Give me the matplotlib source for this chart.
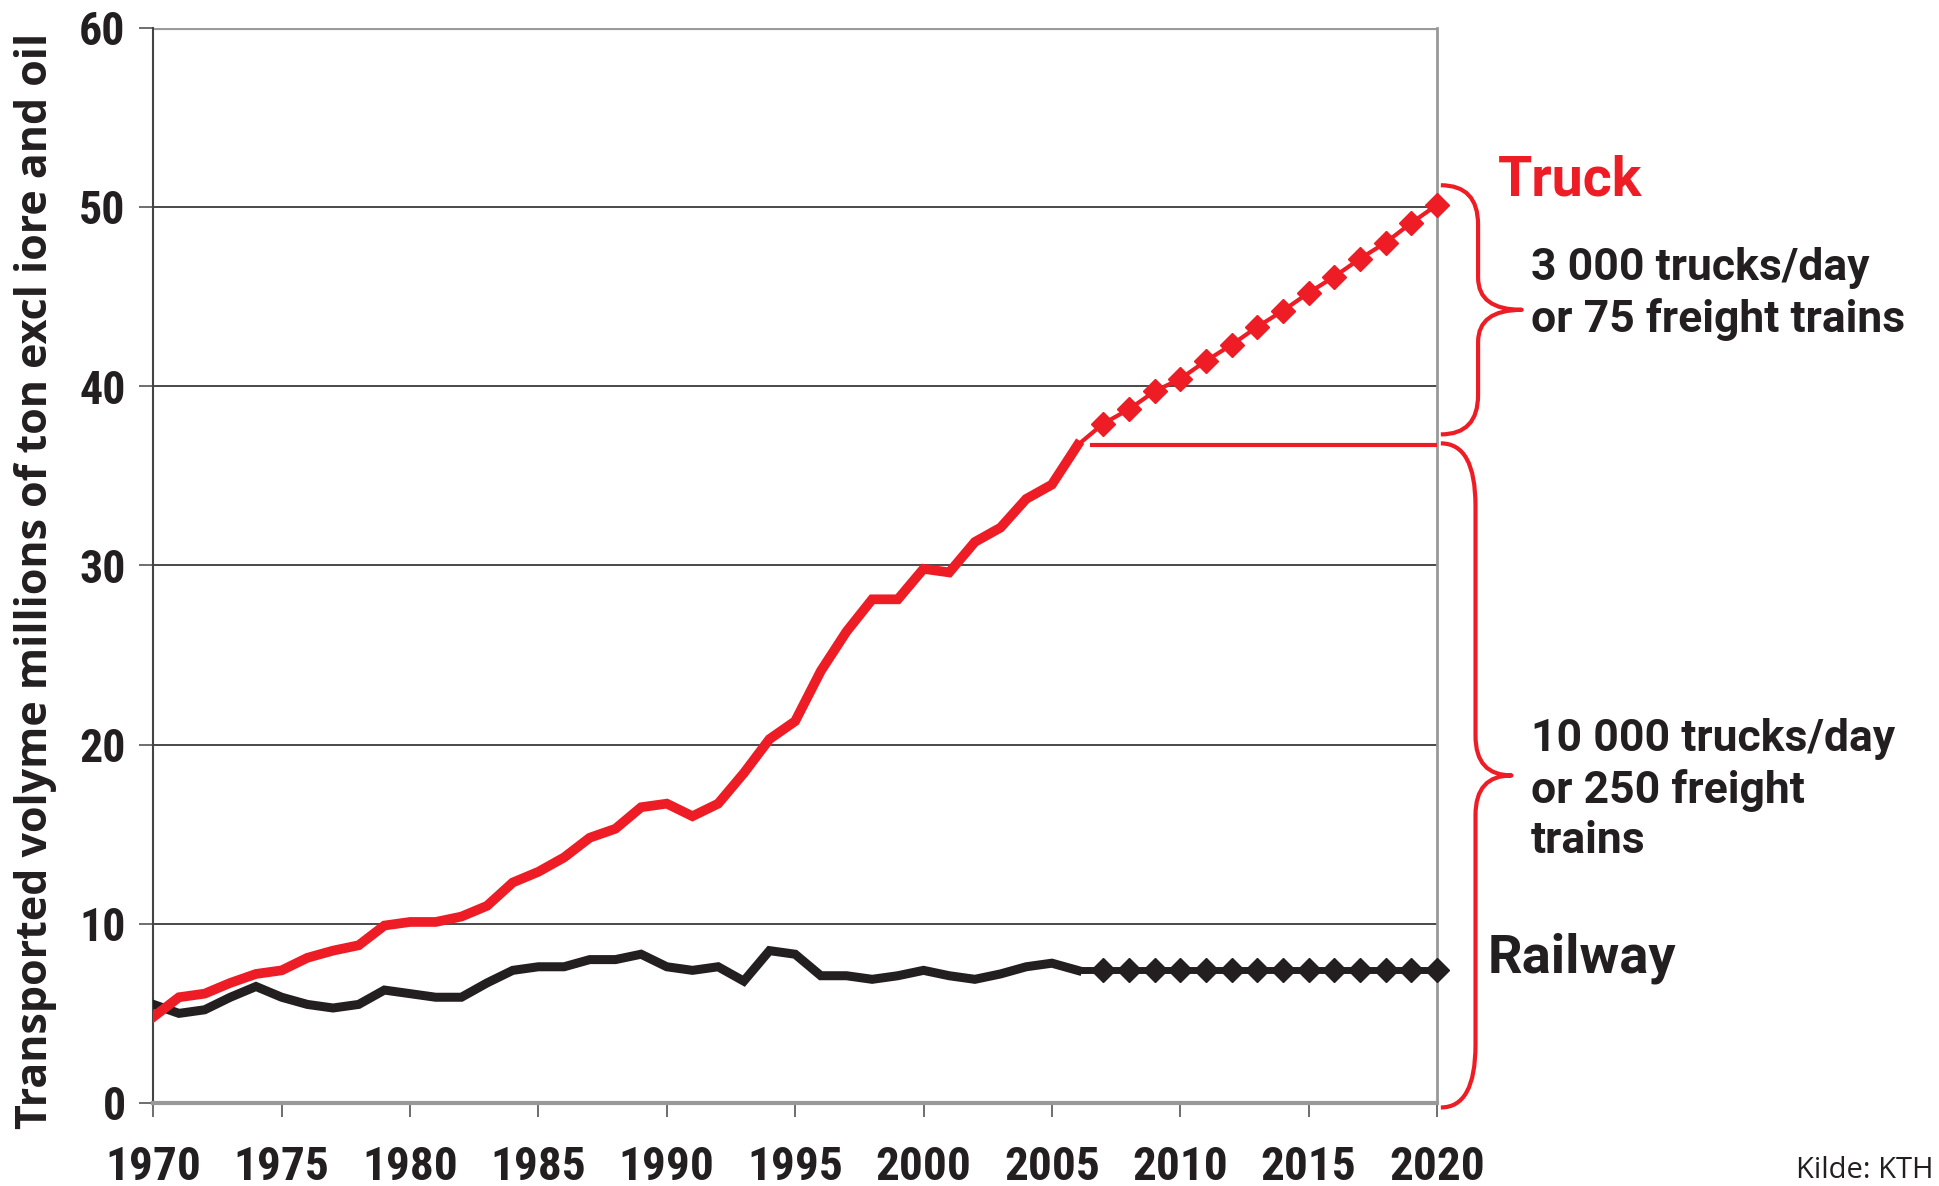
import numpy as np
import matplotlib
matplotlib.use("Agg")
import matplotlib.pyplot as plt
from matplotlib.path import Path
from matplotlib.patches import PathPatch

# ---------------- data ----------------
years_hist = list(range(1970, 2007))
truck_hist = [4.8, 5.9, 6.1, 6.7, 7.2, 7.4, 8.1, 8.5, 8.8, 9.9,
              10.1, 10.1, 10.4, 11.0, 12.3, 12.9, 13.7, 14.8, 15.3, 16.5,
              16.7, 16.0, 16.7, 18.4, 20.3, 21.3, 24.1, 26.3, 28.1, 28.1,
              29.8, 29.6, 31.3, 32.1, 33.7, 34.5, 36.7]
rail_hist = [5.5, 5.0, 5.2, 5.9, 6.5, 5.9, 5.5, 5.3, 5.5, 6.3,
             6.1, 5.9, 5.9, 6.7, 7.4, 7.6, 7.6, 8.0, 8.0, 8.3,
             7.6, 7.4, 7.6, 6.8, 8.5, 8.3, 7.1, 7.1, 6.9, 7.1,
             7.4, 7.1, 6.9, 7.2, 7.6, 7.8, 7.4]
years_fc = list(range(2007, 2021))
truck_fc = [37.9, 38.7, 39.7, 40.4, 41.4, 42.3, 43.3, 44.2, 45.2, 46.1,
            47.1, 48.0, 49.1, 50.1]
rail_fc = [7.4] * 14

x_ticks = [1970, 1975, 1980, 1985, 1990, 1995, 2000, 2005, 2010, 2015, 2020]
y_ticks = [0, 10, 20, 30, 40, 50, 60]

current_level = 36.7           # truck level at 2006 (horizontal line)
upper_brace = (51.2, 37.3)     # top, bottom of "3 000 trucks/day" brace
lower_brace = (36.8, -0.25)    # top, bottom of "10 000 trucks/day" brace

RED = "#EE1C24"
BLACK = "#231F20"

W, H = 1939, 1186
fig = plt.figure(figsize=(W / 100, H / 100), dpi=100)
fig.patch.set_facecolor("white")

L, R, T, B = 153.3, 1437, 27.5, 1103
ax = fig.add_axes([L / W, 1 - B / H, (R - L) / W, (B - T) / H])

narrow = ["Roboto Condensed", "PT Sans Narrow", "Open Sans Condensed", "DejaVu Sans"]
wide = ["Roboto", "Open Sans", "DejaVu Sans"]
label_font = ["Open Sans", "Roboto", "DejaVu Sans"]
plain = ["Open Sans", "DejaVu Sans"]

# gridlines
for yv in y_ticks[1:]:
    ax.axhline(yv, color="#3a3a3a" if yv < 60 else "#9a9a9a", lw=1.3 if yv < 60 else 3, zorder=1)

# series
ax.plot(years_hist, rail_hist, color=BLACK, lw=6.5, solid_joinstyle="miter", zorder=3)
ax.plot([years_hist[-1]] + years_fc, [rail_hist[-1]] + rail_fc, color=BLACK, lw=5,
        marker="D", markevery=list(range(1, 15)), markersize=12.5, zorder=3, clip_on=False)
ax.plot(years_hist, truck_hist, color=RED, lw=7, solid_joinstyle="miter", zorder=4)
ax.plot([years_hist[-1]] + years_fc, [truck_hist[-1]] + truck_fc, color=RED, lw=3,
        marker="D", markevery=list(range(1, 15)), markersize=12, zorder=4, clip_on=False)

# horizontal red line
ax.plot([2006.5, 2020], [current_level, current_level], color=RED, lw=3, zorder=4,
        solid_capstyle="butt")

ax.set_xlim(1970, 2020)
ax.set_ylim(0, 60)
ax.set_xticks(x_ticks)
ax.set_yticks(y_ticks)
ax.set_xticklabels([str(v) for v in x_ticks], fontfamily=narrow, fontweight="bold", fontsize=34)
ax.set_yticklabels([str(v) for v in y_ticks], fontfamily=narrow, fontweight="bold", fontsize=33)
ax.tick_params(axis="x", direction="out", length=10, width=1.2, color="#555555", pad=20)
ax.tick_params(axis="y", direction="out", length=10, width=1.2, color="#555555", pad=10)
for lab in ax.get_xticklabels() + ax.get_yticklabels():
    lab.set_color(BLACK)

ax.spines["top"].set_visible(False)
ax.spines["left"].set_color("#444444")
ax.spines["left"].set_linewidth(1.5)
ax.spines["right"].set_color("#999999")
ax.spines["right"].set_linewidth(2)
ax.spines["bottom"].set_color("#999999")
ax.spines["bottom"].set_linewidth(3)


def brace(x0, xv, xt, ytop, ybot, ymid, r_top, r_mid):
    """curly brace opening to the left, tip pointing right"""
    verts = [
        (x0, ytop),
        (xv, ytop), (xv, ytop - r_top),
        (xv, ymid + r_mid),
        (xv, ymid), (xt, ymid),
        (xv, ymid), (xv, ymid - r_mid),
        (xv, ybot + r_top),
        (xv, ybot), (x0, ybot),
    ]
    codes = [Path.MOVETO,
             Path.CURVE3, Path.CURVE3,
             Path.LINETO,
             Path.CURVE3, Path.CURVE3,
             Path.CURVE3, Path.CURVE3,
             Path.LINETO,
             Path.CURVE3, Path.CURVE3]
    p = PathPatch(Path(verts, codes), fill=False, edgecolor=RED, lw=3, clip_on=False,
                  zorder=5, joinstyle="round")
    ax.add_patch(p)

ut, ub = upper_brace
brace(2020.15, 2021.6, 2023.3, ut, ub, (ut + ub) / 2, 2.2, 1.8)
lt, lb = lower_brace
brace(2020.15, 2021.5, 2022.9, lt, lb, (lt + lb) / 2, 3.5, 2.2)


def ftext(x, y, s, **kw):
    fig.text(x / W, 1 - y / H, s, **kw)

ftext(36, 581, "Transported volyme millions of ton excl iore and oil", rotation=90,
      ha="center", va="center", fontsize=31, fontweight="bold", fontfamily=label_font,
      color=BLACK)
ftext(1498, 180, "Truck", ha="left", va="center", fontsize=40, fontweight="bold",
      fontfamily=wide, color=RED)
ftext(1531, 294, "3 000 trucks/day\nor 75 freight trains", ha="left", va="center",
      fontsize=32, fontweight="bold", fontfamily=wide, color=BLACK, linespacing=1.25)
ftext(1531, 790, "10 000 trucks/day\nor 250 freight\ntrains", ha="left", va="center",
      fontsize=32, fontweight="bold", fontfamily=wide, color=BLACK, linespacing=1.25)
ftext(1488, 958, "Railway", ha="left", va="center", fontsize=39, fontweight="bold",
      fontfamily=wide, color=BLACK)
ftext(1796, 1170, "Kilde: KTH", ha="left", va="center", fontsize=21,
      fontfamily=plain, color=BLACK)

fig.savefig("out.png", dpi=100, facecolor="white")
